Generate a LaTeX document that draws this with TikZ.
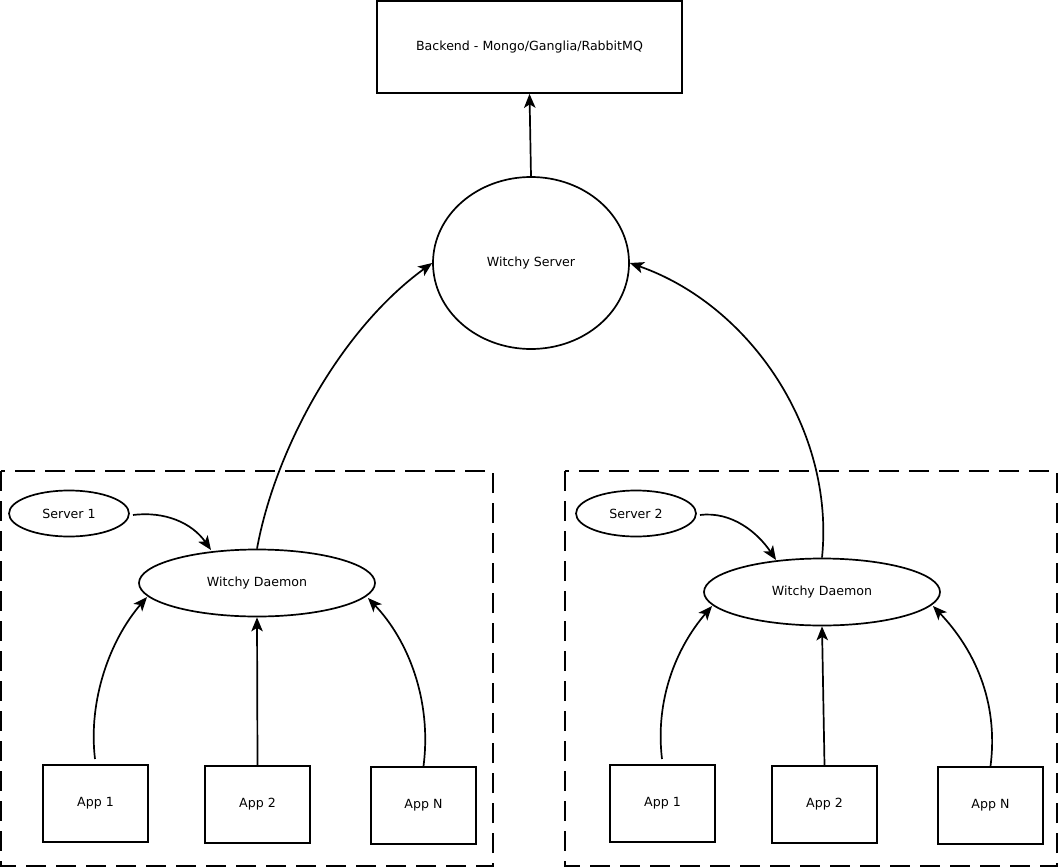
\documentclass[tikz,border=0pt]{standalone}
\usepackage{fontspec}
\setmainfont{DejaVu Sans}
\usetikzlibrary{arrows.meta,shapes.geometric}
\begin{document}
\begin{tikzpicture}[x=1pt,y=-1pt,
  every node/.style={font=\fontsize{12.6}{15}\selectfont},
  boxn/.style={draw,line width=1.7pt,rectangle,inner sep=0pt},
  elln/.style={draw,line width=1.7pt,ellipse,inner sep=0pt},
  arr/.style={line width=1.7pt,-{Stealth[length=14pt,width=11.5pt,inset=3.5pt]}},
  grp/.style={draw,line width=1.7pt,dash pattern=on 20pt off 10pt}]
\useasboundingbox (0,0) rectangle (1058,867);
\node[boxn,minimum width=305pt,minimum height=92pt] (be) at (529.5,47) {Backend - Mongo/Ganglia/RabbitMQ};
\node[elln,minimum width=196pt,minimum height=172pt] (srv) at (531,263) {Witchy Server};
\draw[grp] (1,471) rectangle (493,866);
\draw[grp] (565,471) rectangle (1057,866);
\node[elln,minimum width=120pt,minimum height=46pt] (s1) at (69,513.5) {Server 1};
\node[elln,minimum width=236pt,minimum height=67pt] (d1) at (257,583) {Witchy Daemon};
\node[elln,minimum width=120pt,minimum height=46pt] (s2) at (636,513.5) {Server 2};
\node[elln,minimum width=236pt,minimum height=67pt] (d2) at (822,592) {Witchy Daemon};
\node[boxn,minimum width=105pt,minimum height=77pt] (a11) at (95.5,803.5) {App 1};
\node[boxn,minimum width=105pt,minimum height=77pt] (a12) at (257.5,804.5) {App 2};
\node[boxn,minimum width=105pt,minimum height=77pt] (a1n) at (423.5,805.5) {App N};
\node[boxn,minimum width=105pt,minimum height=77pt] (a21) at (662.5,803.5) {App 1};
\node[boxn,minimum width=105pt,minimum height=77pt] (a22) at (824.5,804.5) {App 2};
\node[boxn,minimum width=105pt,minimum height=77pt] (a2n) at (990.5,805.5) {App N};
\coordinate (a11t) at (95,759);
\coordinate (a21t) at (662,759);
\coordinate (s1r) at (133,515);
\coordinate (s2r) at (700,515);
\draw[arr] (srv.north) -- (be.south);
\draw[arr] (d1.north) .. controls (275,450) and (340,330) .. (srv.west);
\draw[arr] (d2.north) .. controls (835,430) and (750,305) .. (srv.east);
\draw[arr] (s1r) .. controls (165,511) and (192,523) .. (211,550);
\draw[arr] (s2r) .. controls (732,511) and (758,533) .. (776,560);
\draw[arr] (a11t) .. controls (88,700) and (110,640) .. (147,597);
\draw[arr] (a12.north) -- (d1.south);
\draw[arr] (a1n.north) .. controls (432,700) and (408,640) .. (368,598);
\draw[arr] (a21t) .. controls (655,700) and (676,648) .. (712,606);
\draw[arr] (a22.north) -- (d2.south);
\draw[arr] (a2n.north) .. controls (999,700) and (973,648) .. (933,606);
\end{tikzpicture}
\end{document}
